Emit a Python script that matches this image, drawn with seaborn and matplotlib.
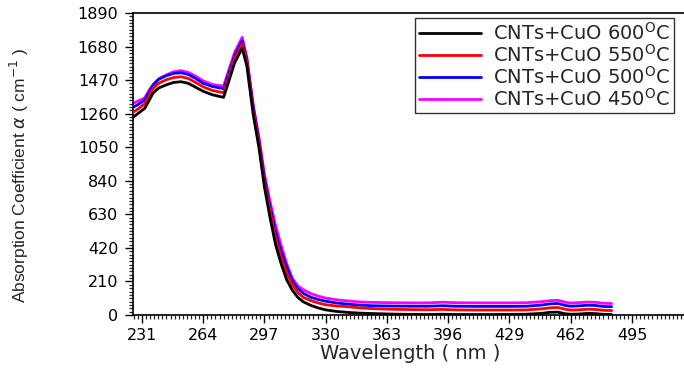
import numpy as np
import pandas as pd
import matplotlib
matplotlib.use("Agg")
import matplotlib.pyplot as plt
import seaborn as sns
from matplotlib.ticker import MultipleLocator, AutoMinorLocator

# ---- data ----
wavelength = [226, 229, 232.5, 235, 237, 240, 244, 248, 252, 256, 260, 264, 269, 275,
              278, 281, 285, 287.5, 291, 294, 297, 300, 303, 306, 309, 312, 315, 318,
              322, 326, 330, 336, 342, 348, 355, 365, 375, 385, 393, 400, 410, 420,
              430, 438, 446, 451, 455, 459, 462, 466, 471, 475, 480, 484]

alpha_600 = [1235, 1262, 1293, 1345, 1389, 1420, 1440, 1455, 1460, 1450, 1425, 1400, 1378, 1362,
             1470, 1580, 1669, 1560, 1250, 1050, 800, 610, 440, 320, 220, 155, 110, 82,
             60, 44, 32, 22, 16, 12, 9, 6, 4, 3, 5, 3, 3, 3,
             4, 5, 10, 17, 18, 8, 5, 6, 10, 9, 4, 3]

alpha_550 = [1266, 1290, 1322, 1375, 1418, 1450, 1472, 1486, 1491, 1480, 1455, 1428, 1405, 1391,
             1495, 1605, 1696, 1585, 1275, 1075, 825, 650, 480, 360, 262, 190, 140, 110,
             90, 75, 64, 56, 52, 45, 40, 36, 34, 33, 35, 32, 31, 31,
             31, 32, 38, 45, 47, 36, 31, 32, 36, 35, 29, 28]

alpha_500 = [1298, 1318, 1345, 1398, 1440, 1475, 1497, 1512, 1516, 1505, 1480, 1450, 1430, 1416,
             1520, 1625, 1717, 1600, 1300, 1095, 855, 680, 520, 400, 300, 215, 165, 135,
             111, 97, 86, 75, 68, 62, 58, 56, 55, 55, 58, 55, 54, 54,
             54, 55, 62, 70, 72, 60, 55, 57, 61, 60, 53, 52]

alpha_450 = [1323, 1340, 1358, 1410, 1439, 1478, 1502, 1522, 1529, 1518, 1494, 1465, 1442, 1433,
             1540, 1645, 1738, 1612, 1310, 1115, 880, 710, 560, 435, 320, 230, 182, 158,
             134, 118, 106, 95, 88, 82, 79, 77, 76, 76, 80, 77, 76, 76,
             76, 77, 83, 90, 92, 80, 75, 77, 81, 80, 73, 72]

labels = ["CNTs+CuO 600$^{\\mathregular{O}}$C",
          "CNTs+CuO 550$^{\\mathregular{O}}$C",
          "CNTs+CuO 500$^{\\mathregular{O}}$C",
          "CNTs+CuO 450$^{\\mathregular{O}}$C"]
colors = ["#000000", "#ff0000", "#0000ff", "#ff00ff"]
widths = [2.2, 2.2, 2.2, 3.4]
series = [alpha_600, alpha_550, alpha_500, alpha_450]

x_ticks = [231, 264, 297, 330, 363, 396, 429, 462, 495]
y_ticks = [0, 210, 420, 630, 840, 1050, 1260, 1470, 1680, 1890]

# ---- figure ----
sns.set_style("ticks")
plt.rcParams["font.family"] = ["DejaVu Sans"]

fig = plt.figure(figsize=(6.84, 3.71), dpi=100)
ax = fig.add_axes([133 / 684, 1 - 315 / 371, 1 - 133 / 684, (315 - 13) / 371])

# draw magenta first (bottom) so others sit on top
for i in [3, 2, 1, 0]:
    df = pd.DataFrame({"Wavelength": wavelength, "alpha": series[i]})
    sns.lineplot(data=df, x="Wavelength", y="alpha", ax=ax, color=colors[i],
                 linewidth=widths[i], label=labels[i], zorder=2 + (3 - i))

h, l = ax.get_legend_handles_labels()
order = [l.index(lab) for lab in labels]
for hh in h:
    hh.set_linewidth(2.0)
leg = ax.legend([h[k] for k in order], [l[k] for k in order],
                loc="upper right", bbox_to_anchor=(674 / 684, 1 - 18 / 371),
                bbox_transform=fig.transFigure, borderaxespad=0,
                fontsize=14, handlelength=3.2, handletextpad=0.6,
                labelspacing=0.0, borderpad=0.2, frameon=True, fancybox=False)
leg.get_frame().set_edgecolor("black")
leg.get_frame().set_linewidth(1.0)

ax.set_xlim(226.2, 523)
ax.set_ylim(0, 1890)
ax.set_xticks(x_ticks)
ax.set_yticks(y_ticks)
ax.xaxis.set_minor_locator(AutoMinorLocator(15))
ax.yaxis.set_minor_locator(AutoMinorLocator(10))
ax.tick_params(axis="both", which="major", direction="out", length=5.5, width=1.0,
               labelsize=11.5, colors="black")
ax.tick_params(axis="y", which="major", pad=5)
ax.tick_params(axis="both", which="minor", direction="out", length=3, width=0.9)

for s in ["left", "bottom", "top"]:
    ax.spines[s].set_visible(True)
    ax.spines[s].set_color("black")
    ax.spines[s].set_linewidth(1.2)
ax.spines["right"].set_visible(False)

ax.set_xlabel("Wavelength ( nm )", fontsize=14)
ax.xaxis.set_label_coords((410 - 133) / 551, (315 - 344) / 302)
ax.set_ylabel("Absorption Coefficient $\\alpha$ ( cm$^{-1}$ )", fontsize=12.5,
              family=["Liberation Sans", "DejaVu Sans"])
ax.yaxis.set_label_coords((31 - 133) / 551, (315 - 175) / 302)

fig.savefig("out.png", dpi=100)
